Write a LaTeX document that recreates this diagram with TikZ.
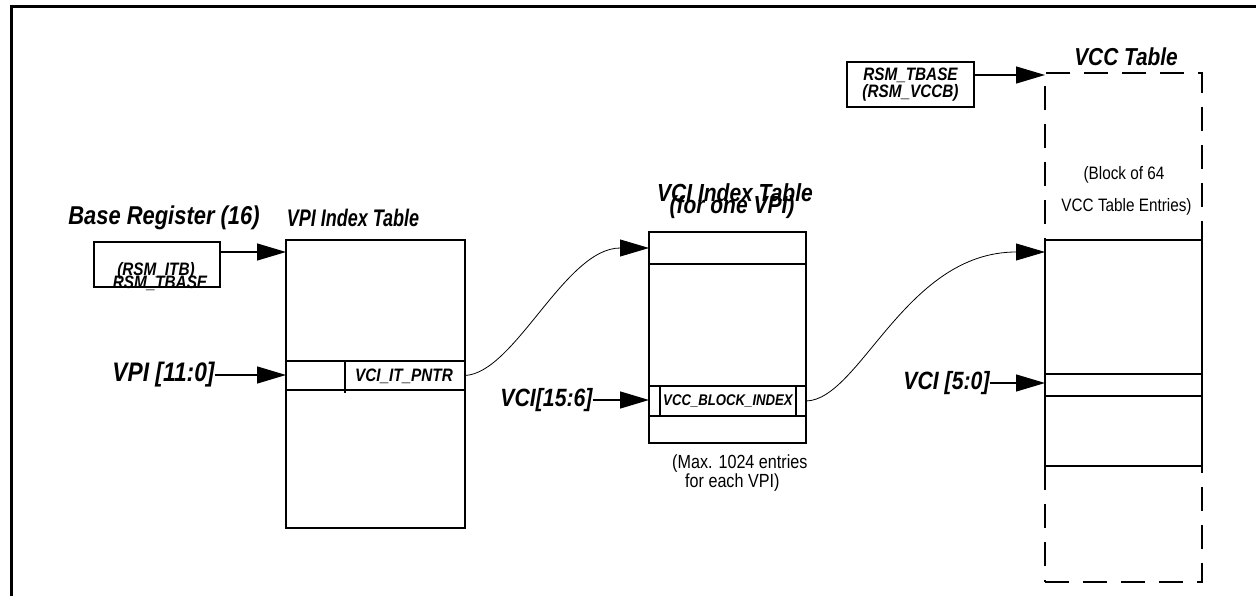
\documentclass[tikz,border=0pt]{standalone}
\usepackage{fontspec}
\setmainfont{Liberation Sans}[FakeStretch=0.85]
\newfontfamily\narrowsans[FakeStretch=0.75]{Liberation Sans}
\usetikzlibrary{arrows.meta,calc}
\begin{document}
\begin{tikzpicture}[x=1pt,y=-1pt,
  tbl/.style={draw, line width=1.5pt, inner sep=0pt, outer sep=0pt, rectangle},
  dsh/.style={draw, line width=2pt, inner sep=0pt, outer sep=0pt, rectangle, dash pattern=on 24pt off 14pt},
  tline/.style={line width=1.5pt},
  ttl/.style={font=\fontsize{#1}{#1}\selectfont\bfseries\itshape, inner sep=0pt},
  ttl/.default=24,
  lbl/.style={font=\fontsize{#1}{#1}\selectfont\bfseries\itshape, inner sep=0pt},
  lbl/.default=25,
  sm/.style={font=\fontsize{18}{18}\selectfont\bfseries\itshape, inner sep=0pt},
  smb/.style={font=\fontsize{15.5}{15.5}\selectfont\bfseries\itshape, inner sep=0pt},
  note/.style={font=\fontsize{#1}{14}\selectfont, inner sep=0pt},
  note/.default=18,
  arr/.style={-{Triangle[length=29pt,width=17pt]}, line width=1.4pt},
  arrc/.style={-{Triangle[length=29pt,width=17pt]}, line width=0.8pt}]
\useasboundingbox (0,0) rectangle (1256,596);
\draw[line width=2.5pt] (11.5,596) -- (11.5,6.5) -- (1256,6.5);

% Base register and VPI index table
\node[ttl=25.8] (tbase) at (164,218) {Base Register (16)};
\node[inner sep=0pt, font=\narrowsans\fontsize{24}{24}\selectfont\bfseries\itshape] (tvpi) at (353,218) {VPI Index Table};
\node[tbl, minimum width=126pt, minimum height=45pt] (rsmitb) at (157,264.5) {};
\node[sm] (itb1) at (156,271) {(RSM\_ITB)};
\node[sm] (itb2) at (160,283) {RSM\_TBASE};
\node[tbl, minimum width=179pt, minimum height=288pt] (vpitab) at (375.5,384) {};
\node[tbl, minimum width=179pt, minimum height=29pt] (vpirow) at (375.5,375.5) {};
\draw[tline] (345,361) -- (345,393);
\node[sm] (pntr) at (404,376) {VCI\_IT\_PNTR};
\node[lbl=26.8] (vpilbl) at (163.5,375) {VPI [11:0]};
\draw[arr] (vpilbl.east) -- (vpirow.west |- vpilbl.east);
\draw[arr] ([yshift=-10pt]rsmitb.north east) -- ([yshift=-12pt]vpitab.north west);

% VCI index table
\node[ttl=24.7] (tvci1) at (735,193) {VCI Index Table};
\node[ttl=24.7] (tvci2) at (732,207) {(for one VPI)};
\node[tbl, minimum width=157pt, minimum height=211pt] (vcitab) at (727.5,337.5) {};
\node[tbl, minimum width=157pt, minimum height=32pt] (vcitop) at (727.5,248) {};
\node[tbl, minimum width=157pt, minimum height=30pt] (vcirow) at (727.5,401) {};
\draw[tline] (660,386) -- (660,416);
\draw[tline] (796,386) -- (796,416);
\node[smb] (vbi) at (728,401) {VCC\_BLOCK\_INDEX};
\node[lbl] (vcilbl) at (546.5,400) {VCI[15:6]};
\draw[arr] (vcilbl.east) -- (vcirow.west |- vcilbl.east);
\node[note=19, anchor=north west, align=left] (maxn) at (672,455) {(Max. 1024 entries\\\hspace*{13pt}for each VPI)};
\draw[arrc] (vpirow.east) .. controls (515,373) and (565,248) .. (vcitop.west);

% VCC table
\node[dsh, minimum width=157pt, minimum height=509pt] (vccblock) at (1123.5,327.5) {};
\node[tbl, minimum width=157pt, minimum height=226pt] (vcctab) at (1123.5,353) {};
\node[tbl, minimum width=157pt, minimum height=22pt] (vccrow) at (1123.5,385) {};
\node[ttl=24.5] (tvcc) at (1126,57) {VCC Table};
\node[tbl, minimum width=127pt, minimum height=45pt, align=center, font=\fontsize{18}{17}\selectfont\bfseries\itshape] (rsmvcc) at (910.5,84.5) {RSM\_TBASE\\(RSM\_VCCB)};
\node[note] (blk1) at (1124,175) {(Block of 64};
\node[note] (blk2) at (1126.5,207) {VCC Table Entries)};
\node[lbl] (vcclbl) at (946.5,383) {VCI [5:0]};
\draw[arr] (vcclbl.east) -- (vccrow.west |- vcclbl.east);
\coordinate (tipv) at ([yshift=-2pt]vccblock.north west);
\draw[arr] (rsmvcc.east |- tipv) -- (tipv);
\coordinate (tipc) at ([yshift=-12pt]vcctab.north west);
\draw[arrc] (vcirow.east) .. controls (860,400) and (905,252) .. (tipc);
\end{tikzpicture}
\end{document}
